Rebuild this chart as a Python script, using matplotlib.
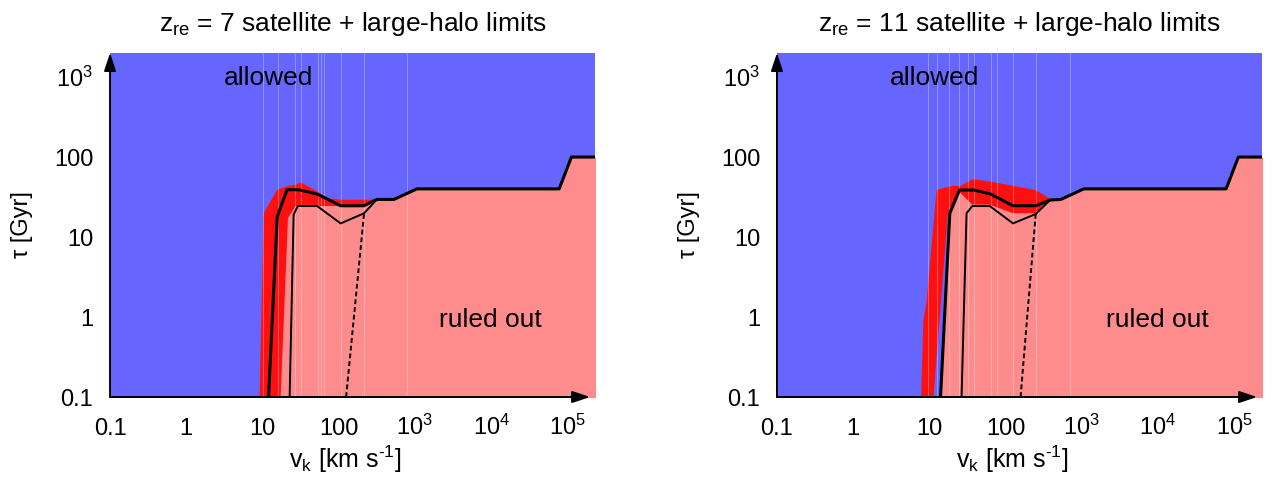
import numpy as np
import matplotlib
matplotlib.use("Agg")
import matplotlib.pyplot as plt

plt.rcParams['font.family'] = ['Liberation Sans', 'DejaVu Sans']
plt.rcParams['mathtext.default'] = 'regular'

# ---- data (v_k in km/s, tau in Gyr) ----
# z_re = 7 panel
main_v_7 = [12.0, 15.6, 21, 30, 52, 106, 213, 316, 530, 1060, 78000, 113000, 3e5]
main_tau_7 = [0.1, 18, 39, 39, 34.5, 24.6, 24.6, 29.5, 29.5, 40, 40, 100, 100]
env_v_7 = [9.14, 10.4, 15.6, 21.1, 27.2, 31.6, 52.5, 71, 106, 227, 316]
env_tau_7 = [0.1, 20, 39, 43.3, 45, 48.3, 37.3, 30.7, 29.3, 29.3, 29.5]
low_v_7 = [17.3, 21.6, 27.2, 50, 106, 213, 316]
low_tau_7 = [0.1, 17.3, 24.4, 24.4, 24.4, 24.6, 29.5]
thin_v_7 = [22.7, 25.6, 29, 52, 106, 215, 316]
thin_tau_7 = [0.1, 19, 24.4, 24.4, 14.8, 19.8, 29.5]
dash_v_7 = [125, 215]
dash_tau_7 = [0.1, 19.8]
seams_7 = [10.3, 16.2, 26.5, 31.6, 53.2, 57.9, 63.3, 106, 213, 776]

# z_re = 11 panel
main_v_11 = [14.0, 18.5, 24.8, 38.3, 63.5, 125, 248, 383, 530, 1060, 78000, 113000, 3e5]
main_tau_11 = [0.1, 19.8, 38.7, 38.7, 34.5, 24.6, 24.6, 29, 29.5, 40, 40, 100, 100]
env_v_11 = [7.78, 8.34, 9.14, 12.4, 18.9, 25.6, 37.6, 65, 128.6, 248, 371, 580]
env_tau_11 = [0.1, 0.92, 1.5, 38.7, 43.4, 43.4, 53, 49, 43.4, 38.7, 30.5, 29.5]
low_v_11 = [11.3, 17.5, 24.5, 36.5, 62, 125, 248, 383]
low_tau_11 = [0.1, 19.8, 37, 25.4, 25.4, 19.8, 19.8, 29]
thin_v_11 = [26.4, 30.7, 36.5, 62, 125, 248, 383]
thin_tau_11 = [0.1, 19.8, 24.4, 24.4, 14.8, 19.4, 29]
dash_v_11 = [157, 248]
dash_tau_11 = [0.1, 19.4]
seams_11 = [9.7, 12.4, 18.3, 24.8, 31.6, 37.9, 63.5, 76, 124, 248, 695]

xticks = [0.1, 1, 10, 100, 1e3, 1e4, 1e5]
xticklabels = ['0.1', '1', '10', '100', '10$^3$', '10$^4$', '10$^5$']
yticks = [0.1, 1, 10, 100, 1e3]
yticklabels = ['0.1', '1', '10', '100', '10$^3$']

BLUE = '#6666ff'
PINK = '#ff8c8c'
RED = '#ff1010'


def panel(ax, zre, main_v, main_tau, env_v, env_tau, low_v, low_tau,
          thin_v, thin_tau, dash_v, dash_tau, seams):
    ax.set_xscale('log')
    ax.set_yscale('log')
    ax.set_xlim(0.1, 2.3e5)
    ax.set_ylim(0.1, 2000)
    ax.set_facecolor(BLUE)

    # ruled out region below the boundary
    ax.fill_between(main_v, main_tau, 0.01, color=PINK, lw=0)
    # red band
    pv = np.concatenate([env_v, low_v[::-1]])
    pt = np.concatenate([env_tau, low_tau[::-1]])
    ax.fill(pv, pt, color=RED, lw=0)

    for v in seams:
        ax.axvline(v, color='white', alpha=0.3, lw=0.7)

    ax.plot(main_v, main_tau, color='k', lw=2.2)
    ax.plot(thin_v, thin_tau, color='k', lw=1.4)
    ax.plot(dash_v, dash_tau, color='k', lw=1.4, ls=(0, (2.5, 1.5)))

    for s in ax.spines.values():
        s.set_visible(False)
    arrow = dict(arrowstyle='-|>,head_length=0.9,head_width=0.3', color='k',
                 lw=1.4, mutation_scale=12, shrinkA=0, shrinkB=0)
    ax.annotate('', xy=(0, 1), xytext=(0, 0), xycoords='axes fraction',
                arrowprops=arrow)
    ax.annotate('', xy=(0.99, 0), xytext=(0, 0), xycoords='axes fraction',
                arrowprops=arrow)

    ax.set_xticks(xticks)
    ax.set_xticklabels(xticklabels)
    ax.set_yticks(yticks)
    ax.set_yticklabels(yticklabels)
    ax.minorticks_off()
    ax.tick_params(length=0, labelsize=17)
    ax.tick_params(axis='x', pad=27)
    ax.tick_params(axis='y', pad=12)
    for lab in ax.get_xticklabels():
        lab.set_va('baseline')

    ax.set_xlabel('v$_k$ [km s$^{\u20101}$]', fontsize=18)
    ax.xaxis.label.set_va('baseline')
    ax.xaxis.set_label_coords(0.485, -0.206)
    ax.set_ylabel('\u03c4 [Gyr]', fontsize=17)
    ax.yaxis.set_label_coords(-0.158, 0.5)
    ax.text(0.5, 1.064, 'z$_{re}$ = %d satellite + large-halo limits' % zre,
            transform=ax.transAxes, fontsize=19, ha='center', va='baseline')

    ax.text(0.326, 0.927, 'allowed', transform=ax.transAxes, fontsize=19,
            ha='center', va='center')
    ax.text(0.784, 0.224, 'ruled out', transform=ax.transAxes, fontsize=19,
            ha='center', va='center')


fig = plt.figure(figsize=(12.87, 4.87), dpi=100)
ax1 = fig.add_axes([0.0855, 0.1848, 0.3768, 0.7064])
ax2 = fig.add_axes([0.6037, 0.1848, 0.3768, 0.7064])

panel(ax1, 7, main_v_7, main_tau_7, env_v_7, env_tau_7, low_v_7, low_tau_7,
      thin_v_7, thin_tau_7, dash_v_7, dash_tau_7, seams_7)
panel(ax2, 11, main_v_11, main_tau_11, env_v_11, env_tau_11, low_v_11, low_tau_11,
      thin_v_11, thin_tau_11, dash_v_11, dash_tau_11, seams_11)

fig.savefig('out.png', dpi=100)
